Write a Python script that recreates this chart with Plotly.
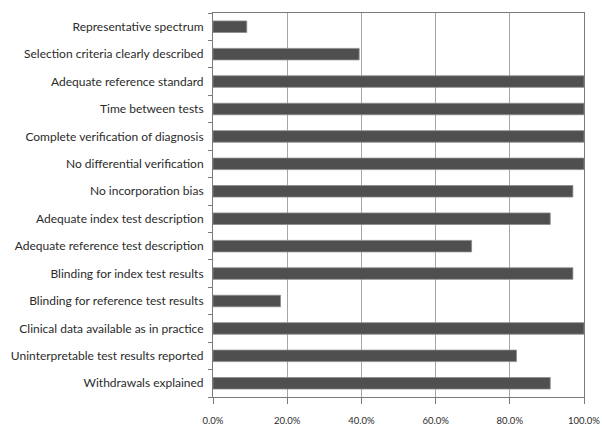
import plotly.graph_objects as go

categories = [
    "Representative spectrum",
    "Selection criteria clearly described",
    "Adequate reference standard",
    "Time between tests",
    "Complete verification of diagnosis",
    "No differential verification",
    "No incorporation bias",
    "Adequate index test description",
    "Adequate reference test description",
    "Blinding for index test results",
    "Blinding for reference test results",
    "Clinical data available as in practice",
    "Uninterpretable test results reported",
    "Withdrawals explained",
]
values = [9.1, 39.4, 100.0, 100.0, 100.0, 100.0, 97.0, 90.9, 69.7, 97.0, 18.2, 100.0, 81.8, 90.9]
tick_values = [0, 20, 40, 60, 80, 100]
tick_labels = ["0.0%", "20.0%", "40.0%", "60.0%", "80.0%", "100.0%"]

FONT = "Lato, sans-serif"

fig = go.Figure(
    go.Bar(
        x=values,
        y=categories,
        orientation="h",
        marker=dict(color="#4f4f4f", line=dict(color="#8a8a8a", width=0.8)),
        width=0.42,
        hoverinfo="skip",
    )
)

fig.update_layout(
    width=602,
    height=427,
    margin=dict(l=213, r=18, t=13, b=30),
    plot_bgcolor="white",
    paper_bgcolor="white",
    showlegend=False,
    font=dict(family=FONT, size=12, color="#2b2b2b"),
)

fig.update_xaxes(
    range=[0, 100],
    tickvals=tick_values,
    ticktext=tick_labels,
    showgrid=True,
    gridcolor="#a6a6a6",
    gridwidth=1,
    zeroline=False,
    showline=True,
    linecolor="#7a7a7a",
    linewidth=1,
    mirror=True,
    ticks="outside",
    ticklen=6,
    tickcolor="#7a7a7a",
    ticklabelstandoff=9,
    tickfont=dict(size=9.5, color="#2b2b2b"),
    automargin=False,
    fixedrange=True,
)

fig.update_yaxes(
    categoryorder="array",
    categoryarray=categories[::-1],
    autorange=False,
    range=[-0.5, len(categories) - 0.5],
    showgrid=False,
    zeroline=False,
    showline=True,
    linecolor="#7a7a7a",
    linewidth=1,
    mirror=True,
    ticks="outside",
    tickson="boundaries",
    ticklen=4,
    tickcolor="#7a7a7a",
    ticklabelstandoff=6,
    tickfont=dict(size=12, color="#2b2b2b"),
    automargin=False,
    fixedrange=True,
)

fig.write_html(
    "out.html",
    config={"displayModeBar": False, "staticPlot": True},
    post_script="document.body.style.margin='0';document.body.style.overflow='hidden';",
)
